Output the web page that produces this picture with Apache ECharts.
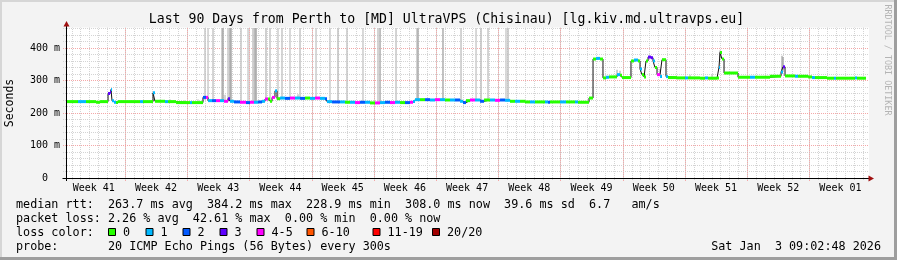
<!DOCTYPE html>
<html><head><meta charset="utf-8">
<script src="https://cdn.jsdelivr.net/npm/echarts@6/dist/echarts.min.js"></script>
<style>html,body{margin:0;padding:0;background:#f3f3f3}#c{width:897px;height:260px}</style>
</head><body><div id="c"></div>
<script>
// ---------- data ----------
const titleText = 'Last 90 Days from Perth to [MD] UltraVPS (Chisinau) [lg.kiv.md.ultravps.eu]';
const windowStart = '2025-10-05T09:02:48Z';
const windowDays = 90;
const yMax = 461.5;
const yTicks = [0, 100, 200, 300, 400];
const weekStarts = ['2025-10-05','2025-10-12','2025-10-19','2025-10-26','2025-11-02','2025-11-09','2025-11-16','2025-11-23','2025-11-30','2025-12-07','2025-12-14','2025-12-21','2025-12-28'];
const weekLabels = ['Week 41','Week 42','Week 43','Week 44','Week 45','Week 46','Week 47','Week 48','Week 49','Week 50','Week 51','Week 52','Week 01'];

// median RTT (ms), time in days since window start, loss = lost pings of 20
const medianDays = [
0,1.35,2.25,3.38,3.83,4.73,4.95,5.06,5.18,5.4,
5.63,5.85,8.33,8.66,9.79,10.01,11.14,11.48,12.38,13.95,
14.18,15.41,15.75,15.98,16.43,16.88,17.33,17.78,18.23,18.45,
18.9,19.58,20.25,20.7,21.15,21.6,22.05,22.39,22.73,22.95,
23.18,23.51,23.74,24.08,24.64,25.2,25.76,26.33,26.89,27.45,
28.01,28.58,29.14,29.36,29.93,30.83,31.39,31.95,32.51,33.08,
33.64,34.2,34.76,35.33,35.89,36.45,37.01,37.58,38.14,38.7,
39.04,39.26,39.83,40.39,40.95,41.51,42.08,42.64,43.2,43.76,
44.33,44.66,45.0,45.45,46.01,46.58,47.03,47.7,48.26,48.83,
49.39,49.95,50.51,51.08,51.64,52.2,52.76,53.89,54.23,54.45,
55.58,56.25,57.26,57.6,58.84,59.29,59.63,60.08,60.41,60.75,
61.09,61.99,62.33,62.55,63.56,63.9,64.35,64.58,64.8,65.03,
65.25,65.48,65.81,66.04,66.26,66.49,66.83,67.05,67.5,67.73,
68.74,69.64,69.98,71.33,71.89,72.23,73.24,73.46,73.58,73.8,
74.03,75.6,76.95,77.51,79.2,80.44,80.66,80.89,82.01,82.35,
83.48,83.93,84.26,85.61,86.4,86.63,87.98,88.76,88.99,90];
const medianMs = [
235,235,235,233,235,260,264,272,238,233,
232,235,235,235,262,236,235,235,232,232,
232,248,248,238,238,238,238,236,244,236,
234,233,232,233,233,234,236,243,243,236,
248,268,244,246,245,246,246,245,246,245,
246,245,244,235,234,234,233,233,232,233,
233,231,231,232,233,232,233,232,232,233,
235,241,241,241,240,241,241,240,240,240,
236,232,238,240,240,236,240,240,239,240,
239,236,236,236,234,234,234,234,233,234,
234,234,234,233,246,366,368,366,308,310,
311,318,316,309,360,363,360,335,318,311,
360,372,370,360,340,318,312,364,312,309,
308,308,308,307,308,307,308,340,386,366,
323,310,310,310,313,326,342,314,313,313,
311,309,309,307,307,307,307,308,307,307];
const medianLoss = [
0,1,0,0,0,3,3,1,1,1,
0,0,1,0,1,0,1,0,0,1,
0,2,4,1,2,4,1,4,3,1,
2,4,2,4,1,2,1,4,0,0,
4,1,0,1,2,4,1,2,0,1,
4,1,2,1,2,1,0,1,4,2,
1,0,4,1,2,4,1,0,2,4,
1,1,0,2,1,4,1,0,1,2,
1,2,0,4,1,2,0,1,4,2,
1,0,1,0,0,1,0,1,2,0,
1,0,1,0,0,0,1,0,0,1,
0,1,0,0,0,1,0,1,0,0,
0,3,3,1,0,4,1,0,1,0,
0,1,0,0,1,0,0,1,0,0,
0,0,1,0,0,1,3,0,1,0,
0,1,0,0,1,0,0,1,0,0];

// smoke (ping spread) : day, low ms, high ms, density 0..1
const smokeDays = [15.64,15.98,16.54,17.55,17.66,18.23,18.45,18.56,19.69,20.48,21.04,21.26,21.38,22.5,22.95,23.85,24.3,25.2,26.33,28.13,29.7,30.6,31.61,33.41,35.1,35.33,37.13,39.49,39.6,42.41,44.44,46.13,46.69,47.48,49.5,49.73,
  10.58,11.7,13.39,14.85,17.89,26.1,61.99,62.33,66.83,70.2,72.68,73.58,80.55,80.66];
const smokeLow = [240,238,238,238,238,240,236,236,233,233,233,233,233,243,236,246,246,246,245,246,240,234,233,233,232,232,233,241,241,241,236,240,236,240,239,239,
  236,236,233,233,238,246,318,316,316,308,308,370,320,330];
const smokeHigh = [461.5,461.5,461.5,461.5,461.5,461.5,461.5,461.5,461.5,461.5,461.5,461.5,461.5,461.5,461.5,461.5,461.5,461.5,461.5,461.5,461.5,461.5,461.5,461.5,461.5,461.5,461.5,461.5,461.5,461.5,461.5,461.5,461.5,461.5,461.5,461.5,
  241,242,240,242,256,258,333,330,335,318,320,392,376,372];
const smokeDensity = [0.4,0.3,0.4,0.5,0.9,0.4,0.9,0.9,0.4,0.3,0.5,0.9,0.9,0.5,0.4,0.3,0.4,0.3,0.4,0.3,0.3,0.5,0.4,0.3,0.4,0.8,0.4,0.5,0.8,0.8,0.4,0.3,0.5,0.4,0.3,0.5,
  0.2,0.2,0.2,0.2,0.4,0.4,0.5,0.5,0.5,0.3,0.3,0.6,0.7,0.9];

const lossLabels = ['0','1','2','3','4-5','6-10','11-19','20/20'];
const lossColors = ['#26ff00','#00b8ff','#0059ff','#5e00ff','#ff00ff','#ff5500','#ff0000','#a10000'];
const statsMedian = 'median rtt:  263.7 ms avg  384.2 ms max  228.9 ms min  308.0 ms now  39.6 ms sd  6.7   am/s';
const statsLoss = 'packet loss: 2.26 % avg  42.61 % max  0.00 % min  0.00 % now';
const probeText = 'probe:       20 ICMP Echo Pings (56 Bytes) every 300s';
const stampText = 'Sat Jan  3 09:02:48 2026';

// ---------- build ----------
const DAY = 86400000;
const T0 = Date.parse(windowStart);
const T1 = T0 + windowDays * DAY;
const tOf = d => T0 + d * DAY;
function lossIdx(n){ return n <= 3 ? n : n <= 5 ? 4 : n <= 10 ? 5 : n <= 19 ? 6 : 7; }

const dayLines = [];
for (let t = Date.parse('2025-10-06T00:00:00Z'); t < T1; t += DAY) dayLines.push([t, 0]);
const weekLines = weekStarts.map(s => Date.parse(s + 'T00:00:00Z')).filter(t => t > T0).map(t => [t, 0]);
const weekMid = weekStarts.map((s, i) => [Date.parse(s + 'T00:00:00Z') + 3.5 * DAY, 0, i]);
const hMinor = []; for (let v = 20; v < yMax; v += 20) hMinor.push([T0, v]);
const hMajor = yTicks.filter(v => v > 0).map(v => [T0, v]);

const MONO = '"DejaVu Sans Mono", monospace';
const GRID_MINOR = '#d4d4d4';
const GRID_MAJOR = '#f4a8a8';

function vGrid(color, ext) {
  return (params, api) => {
    const cs = params.coordSys;
    const x = Math.round(api.coord([api.value(0), 0])[0]) + 0.5;
    return { type: 'line', shape: { x1: x, y1: cs.y + cs.height + ext, x2: x, y2: cs.y - 0.5 },
      style: { stroke: color, lineWidth: 1, lineDash: [1, 1] } };
  };
}
function hGrid(color) {
  return (params, api) => {
    const cs = params.coordSys;
    const y = Math.round(api.coord([T0, api.value(1)])[1]) + 0.5;
    return { type: 'line', shape: { x1: cs.x - 3, y1: y, x2: cs.x + cs.width + 2, y2: y },
      style: { stroke: color, lineWidth: 1, lineDash: [1, 1] } };
  };
}

const medianData = medianDays.map((d, i) => [tOf(d), medianMs[i], medianLoss[i]]);
const smokeData = smokeDays.map((d, i) => [tOf(d), smokeLow[i], smokeHigh[i], smokeDensity[i]]);

const txt = (x, y, text, size, extra) => Object.assign({ type: 'text', z: 10, x: x, y: y,
  style: { text: text, font: size + 'px ' + MONO, fill: '#000', align: 'left', verticalAlign: 'middle' } }, extra || {});

const graphics = [
  { type: 'rect', z: -10, shape: { x: 0, y: 0, width: 897, height: 260 }, style: { fill: '#f3f3f3' } },
  { type: 'rect', z: -9, shape: { x: 0, y: 0, width: 897, height: 2 }, style: { fill: '#d6d6d6' } },
  { type: 'rect', z: -9, shape: { x: 0, y: 0, width: 2, height: 260 }, style: { fill: '#d6d6d6' } },
  { type: 'rect', z: -9, shape: { x: 0, y: 257, width: 897, height: 3 }, style: { fill: '#9e9e9e' } },
  { type: 'rect', z: -9, shape: { x: 894, y: 0, width: 3, height: 260 }, style: { fill: '#9e9e9e' } },
  { type: 'rect', z: -8, shape: { x: 66, y: 27.5, width: 803, height: 151 }, style: { fill: '#ffffff' } },
  { type: 'text', z: 10, x: 446.5, y: 19.5, style: { text: titleText, font: '13.2px ' + MONO, fill: '#000', align: 'center', verticalAlign: 'middle' } },
  { type: 'text', z: 10, x: 10.5, y: 103, rotation: Math.PI / 2, style: { text: 'Seconds', font: '11.5px ' + MONO, fill: '#000', align: 'center', verticalAlign: 'middle' } },
  { type: 'text', z: 10, x: 887, y: 60, rotation: -Math.PI / 2, style: { text: 'RRDTOOL / TOBI OETIKER', font: '8.4px ' + MONO, fill: '#b4b4b4', align: 'center', verticalAlign: 'middle' } },
  txt(16, 204.5, statsMedian, 11.75),
  txt(16, 218.7, statsLoss, 11.75),
  txt(16, 232.9, 'loss color:', 11.75),
  txt(16, 247, probeText, 11.75),
  { type: 'text', z: 10, x: 881, y: 247, style: { text: stampText, font: '11.75px ' + MONO, fill: '#000', align: 'right', verticalAlign: 'middle' } },
  // axes
  { type: 'line', z: 10, shape: { x1: 62.5, y1: 178.5, x2: 869, y2: 178.5 }, style: { stroke: '#000', lineWidth: 1 } },
  { type: 'line', z: 10, shape: { x1: 66.5, y1: 181, x2: 66.5, y2: 25 }, style: { stroke: '#000', lineWidth: 1 } },
  { type: 'polygon', z: 10, shape: { points: [[63.5, 26.5], [69.5, 26.5], [66.5, 21]] }, style: { fill: '#a01010' } },
  { type: 'polygon', z: 10, shape: { points: [[868.5, 175.5], [868.5, 181.5], [874, 178.5]] }, style: { fill: '#a01010' } }
];
const boxX = [108, 145.5, 182.5, 219.5, 256.5, 306.5, 372.5, 432];
lossLabels.forEach((lab, i) => {
  graphics.push({ type: 'rect', z: 10, shape: { x: boxX[i] + 0.5, y: 228.5, width: 7, height: 7 }, style: { fill: lossColors[i], stroke: '#000', lineWidth: 1 } });
  graphics.push(txt(boxX[i] + 15, 232.9, lab, 11.75));
});

const chart = echarts.init(document.getElementById('c'), null, { renderer: 'canvas', width: 897, height: 260 });
chart.setOption({
  animation: false,
  backgroundColor: '#f3f3f3',
  graphic: { elements: graphics },
  grid: { left: 66, top: 28, width: 800, height: 150, containLabel: false },
  xAxis: { type: 'value', min: T0, max: T1, axisLine: { show: false }, axisTick: { show: false }, axisLabel: { show: false }, splitLine: { show: false } },
  yAxis: { type: 'value', min: 0, max: yMax, interval: 100,
    axisLine: { show: false }, axisTick: { show: false }, splitLine: { show: false },
    axisLabel: { showMaxLabel: false, margin: 6, fontFamily: 'DejaVu Sans Mono', fontSize: 10, color: '#000',
      formatter: v => v === 0 ? '0  ' : v + ' m' } },
  series: [
    { type: 'custom', z: 1, silent: true, data: dayLines, renderItem: vGrid(GRID_MINOR, 2) },
    { type: 'custom', z: 1, silent: true, data: hMinor, renderItem: hGrid(GRID_MINOR) },
    { type: 'custom', z: 1, silent: true, data: weekLines, renderItem: vGrid(GRID_MAJOR, 3) },
    { type: 'custom', z: 1, silent: true, data: hMajor, renderItem: hGrid(GRID_MAJOR) },
    { type: 'custom', z: 1, silent: true, data: weekMid, clip: false,
      renderItem: (params, api) => {
        const p = api.coord([api.value(0), 0]);
        return { type: 'text', x: p[0], y: p[1] + 10,
          style: { text: weekLabels[api.value(2)], font: '10px ' + MONO, fill: '#000', align: 'center', verticalAlign: 'middle' } };
      } },
    { type: 'custom', z: 2, silent: true, data: smokeData, clip: true,
      renderItem: (params, api) => {
        const t = api.value(0);
        const pLo = api.coord([t, api.value(1)]), pHi = api.coord([t, api.value(2)]);
        const g = Math.round(222 - 60 * api.value(3));
        return { type: 'rect', shape: { x: pLo[0] - 0.75, y: pHi[1], width: 1.5, height: pLo[1] - pHi[1] },
          style: { fill: 'rgb(' + g + ',' + g + ',' + g + ')' } };
      } },
    { type: 'line', z: 3, silent: true, step: 'end', symbol: 'none', data: medianData.map(p => [p[0], p[1]]),
      lineStyle: { color: '#111', width: 1 } },
    { type: 'custom', z: 4, silent: true, data: medianData, clip: true,
      renderItem: (params, api) => {
        const i = params.dataIndex;
        const t0 = api.value(0), v = api.value(1);
        const t1 = i + 1 < medianData.length ? medianData[i + 1][0] : t0;
        const p0 = api.coord([t0, v]), p1 = api.coord([t1, v]);
        return { type: 'rect', shape: { x: p0[0], y: p0[1] - 1.5, width: Math.max(p1[0] - p0[0], 0.5), height: 3 },
          style: { fill: lossColors[lossIdx(api.value(2))] } };
      } }
  ]
});
</script></body></html>
